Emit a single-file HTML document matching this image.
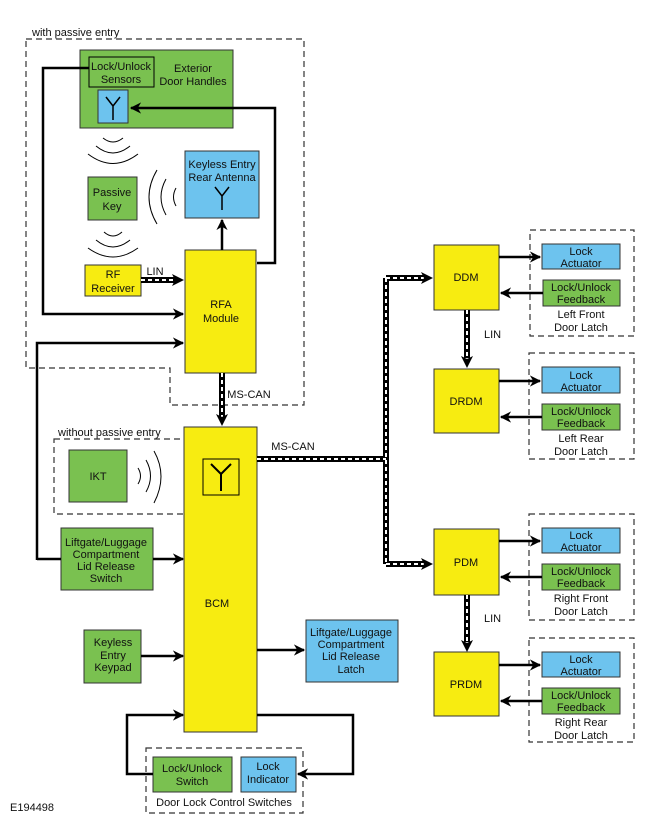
<!DOCTYPE html>
<html><head><meta charset="utf-8"><style>body{margin:0;background:#fff}svg{display:block}text{font-family:"Liberation Sans",sans-serif;font-size:11px;fill:#111}</style></head><body>
<svg width="650" height="820" viewBox="0 0 650 820" xmlns="http://www.w3.org/2000/svg">
<defs><marker id="a" viewBox="0 0 10 10" refX="9" refY="5" markerWidth="5" markerHeight="4.5" orient="auto" markerUnits="strokeWidth"><path d="M0,0 L10,5 L0,10 L3,5z" fill="#000"/></marker></defs>
<g fill="none" stroke="#333" stroke-width="1.2" stroke-dasharray="6,4">
<path d="M26,39 H304 V405 H170 V368 H26 Z"/>
<rect x="54" y="439" width="192" height="75"/>
<rect x="146" y="748" width="157" height="65"/>
<rect x="530" y="230" width="104" height="106"/>
<rect x="529" y="353" width="105" height="106"/>
<rect x="529" y="514" width="105" height="106"/>
<rect x="529" y="638" width="105" height="104"/>
</g>
<text x="32" y="36">with passive entry</text>
<text x="58" y="436">without passive entry</text>
<g stroke="#333" stroke-width="1">
<rect x="80" y="50" width="153" height="78" fill="#7ac150"/>
<rect x="89" y="57" width="65" height="30" fill="#7ac150" stroke="#000"/>
<rect x="98" y="90" width="30" height="33" fill="#6dc3ee"/>
<rect x="88" y="177" width="49" height="43" fill="#7ac150"/>
<rect x="185" y="151" width="74" height="67" fill="#6dc3ee"/>
<rect x="85" y="265" width="56" height="31" fill="#f7ec11"/>
<rect x="185" y="250" width="71" height="123" fill="#f7ec11"/>
<rect x="184" y="427" width="73" height="305" fill="#f7ec11"/>
<rect x="69" y="450" width="58" height="52" fill="#7ac150"/>
<rect x="203" y="459" width="36" height="36" fill="#f7ec11" stroke="#000"/>
<rect x="61" y="528" width="92" height="62" fill="#7ac150"/>
<rect x="84" y="630" width="57" height="53" fill="#7ac150"/>
<rect x="306" y="620" width="92" height="62" fill="#6dc3ee"/>
<rect x="153" y="757" width="79" height="35" fill="#7ac150"/>
<rect x="241" y="757" width="55" height="35" fill="#6dc3ee"/>
<rect x="434" y="245" width="65" height="65" fill="#f7ec11"/>
<rect x="434" y="369" width="65" height="64" fill="#f7ec11"/>
<rect x="434" y="529" width="65" height="66" fill="#f7ec11"/>
<rect x="434" y="652" width="65" height="64" fill="#f7ec11"/>
<rect x="542" y="244" width="78" height="25" fill="#6dc3ee"/>
<rect x="543" y="280" width="77" height="26" fill="#7ac150"/>
<rect x="542" y="367" width="78" height="26" fill="#6dc3ee"/>
<rect x="542" y="404" width="78" height="26" fill="#7ac150"/>
<rect x="542" y="528" width="78" height="25" fill="#6dc3ee"/>
<rect x="542" y="564" width="78" height="26" fill="#7ac150"/>
<rect x="542" y="652" width="78" height="25" fill="#6dc3ee"/>
<rect x="542" y="688" width="78" height="26" fill="#7ac150"/>
</g>
<g fill="none" stroke="#000" stroke-width="1.5">
<path d="M113,120 V106 M113,106 L106,97 M113,106 L120,97"/>
<path d="M222,210 V196 M222,196 L215,187 M222,196 L229,187"/>
<path d="M221,491 V474 M221,474 L211,464 M221,474 L231,464" stroke-width="2"/>
</g>
<g fill="none" stroke="#000" stroke-width="1">
<path d="M103,138 Q113,146 123,138"/><path d="M96,146 Q113,160 130,146"/><path d="M88,154 Q113,173 138,154"/>
<path d="M104,232 Q113,240 122,232"/><path d="M96,240 Q113,254 130,240"/><path d="M88,248 Q113,266 138,248"/>
<path d="M176,188 Q171,197 176,206"/><path d="M166,179 Q156,197 166,215"/><path d="M157,170 Q141,197 157,224"/>
<path d="M138,468 Q143,476 138,484"/><path d="M146,460 Q155,476 146,492"/><path d="M154,451 Q168,476 154,503"/>
</g>
<path d="M37,559 H61" stroke="#000" stroke-width="2.5" fill="none"/>
<g fill="none" stroke="#000" stroke-width="2.5" marker-end="url(#a)">
<path d="M89,68 H43 V314 H183"/>
<path d="M257,263 H275 V108 H131"/>
<path d="M222,250 V220"/>
<path d="M37,560 V343 H183"/>
<path d="M153,559 H183"/>
<path d="M141,656 H183"/>
<path d="M257,650 H304"/>
<path d="M153,774 H127 V715 H183"/>
<path d="M257,715 H353 V774 H298"/>
<path d="M499,257 H540"/><path d="M543,293 H501"/>
<path d="M499,381 H540"/><path d="M542,417 H501"/>
<path d="M499,541 H540"/><path d="M542,577 H501"/>
<path d="M499,665 H540"/><path d="M542,701 H501"/>
</g>
<g fill="none" stroke="#000" stroke-width="6">
<path d="M141,280 H176"/><path d="M222,373 V417"/><path d="M257,459 H386 M386,278 V564 M386,278 H424 M386,564 H424"/><path d="M467,310 V358"/><path d="M467,595 V642"/>
</g>
<g fill="none" stroke="#fff" stroke-width="2" stroke-dasharray="4,3">
<path d="M141,280 H176"/><path d="M222,373 V417"/><path d="M257,459 H386 M386,278 V564 M386,278 H424 M386,564 H424"/><path d="M467,310 V358"/><path d="M467,595 V642"/>
</g>
<g fill="#000">
<path d="M184,280 L172,274 L175,280 L172,286z"/><path d="M222,426 L216,414 L222,417 L228,414z"/>
<path d="M433,278 L421,272 L424,278 L421,284z"/><path d="M433,564 L421,558 L424,564 L421,570z"/>
<path d="M467,368 L461,356 L467,359 L473,356z"/><path d="M467,652 L461,640 L467,643 L473,640z"/>
</g>
<g text-anchor="middle">
<text x="121" y="70">Lock/Unlock</text><text x="121" y="83">Sensors</text>
<text x="193" y="72">Exterior</text><text x="193" y="85">Door Handles</text>
<text x="112" y="196">Passive</text><text x="112" y="210">Key</text>
<text x="222" y="168">Keyless Entry</text><text x="222" y="181">Rear Antenna</text>
<text x="113" y="278">RF</text><text x="113" y="292">Receiver</text>
<text x="155" y="275">LIN</text>
<text x="221" y="308">RFA</text><text x="221" y="322">Module</text>
<text x="249" y="398">MS-CAN</text>
<text x="293" y="450">MS-CAN</text>
<text x="98" y="480">IKT</text>
<text x="217" y="607">BCM</text>
<text x="106" y="546">Liftgate/Luggage</text><text x="106" y="558">Compartment</text><text x="106" y="570">Lid Release</text><text x="106" y="582">Switch</text>
<text x="113" y="646">Keyless</text><text x="113" y="659">Entry</text><text x="113" y="671">Keypad</text>
<text x="351" y="636">Liftgate/Luggage</text><text x="351" y="648">Compartment</text><text x="351" y="660">Lid Release</text><text x="351" y="673">Latch</text>
<text x="192" y="772">Lock/Unlock</text><text x="192" y="785">Switch</text>
<text x="268" y="770">Lock</text><text x="268" y="783">Indicator</text>
<text x="224" y="806">Door Lock Control Switches</text>
<text x="466" y="281">DDM</text><text x="466" y="405">DRDM</text><text x="466" y="566">PDM</text><text x="466" y="688">PRDM</text>
<text x="581" y="255">Lock</text><text x="581" y="267">Actuator</text>
<text x="581" y="291">Lock/Unlock</text><text x="581" y="303">Feedback</text>
<text x="581" y="318">Left Front</text><text x="581" y="331">Door Latch</text>
<text x="581" y="379">Lock</text><text x="581" y="391">Actuator</text>
<text x="581" y="415">Lock/Unlock</text><text x="581" y="427">Feedback</text>
<text x="581" y="442">Left Rear</text><text x="581" y="455">Door Latch</text>
<text x="581" y="539">Lock</text><text x="581" y="551">Actuator</text>
<text x="581" y="575">Lock/Unlock</text><text x="581" y="587">Feedback</text>
<text x="581" y="602">Right Front</text><text x="581" y="615">Door Latch</text>
<text x="581" y="663">Lock</text><text x="581" y="675">Actuator</text>
<text x="581" y="699">Lock/Unlock</text><text x="581" y="711">Feedback</text>
<text x="581" y="726">Right Rear</text><text x="581" y="739">Door Latch</text>
</g>
<text x="484" y="338">LIN</text><text x="484" y="622">LIN</text>
<text x="10" y="811">E194498</text>
</svg>
</body></html>
